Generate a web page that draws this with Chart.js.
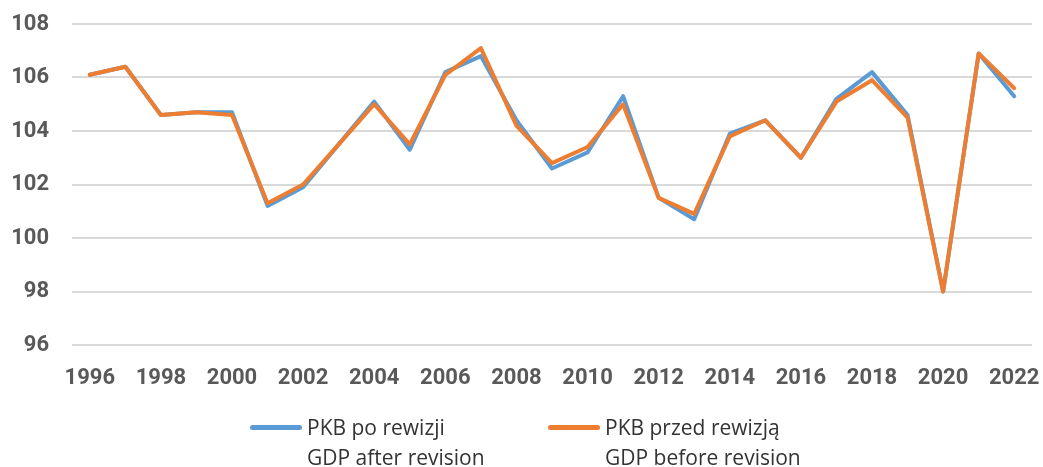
<!DOCTYPE html>
<html>
<head>
<meta charset="utf-8">
<script src="https://cdn.jsdelivr.net/npm/chart.js@4/dist/chart.umd.min.js"></script>
<style>
  html, body { margin: 0; padding: 0; background: #fff; }
  #wrap { position: relative; width: 1043px; height: 467px; }
  #legend { position: absolute; left: 0; top: 412px; width: 1043px; font-family: "Open Sans", sans-serif; font-size: 21px; color: #333; }
  .item { position: absolute; top: 0; line-height: 30px; }
  .swatch { position: absolute; left: 0; top: 13px; width: 52px; height: 5px; border-radius: 3px; }
  .txt { position: absolute; left: 57px; top: 0; white-space: nowrap; }
</style>
</head>
<body>
<div id="wrap">
  <canvas id="myChart" width="1043" height="467"></canvas>
  <div id="legend"></div>
</div>
<script>
// lata
var years = ["1996","1997","1998","1999","2000","2001","2002","2003","2004","2005","2006","2007","2008","2009",
             "2010","2011","2012","2013","2014","2015","2016","2017","2018","2019","2020","2021","2022"];

// PKB po rewizji / GDP after revision
var gdpAfter = [106.1, 106.4, 104.6, 104.7, 104.7, 101.2, 101.9, 103.5, 105.1, 103.3, 106.2, 106.8, 104.4, 102.6,
                103.2, 105.3, 101.5, 100.7, 103.9, 104.4, 103.0, 105.2, 106.2, 104.6, 98.0, 106.9, 105.3];

// PKB przed rewizją / GDP before revision
var gdpBefore = [106.1, 106.4, 104.6, 104.7, 104.6, 101.3, 102.0, 103.5, 105.0, 103.5, 106.1, 107.1, 104.2, 102.8,
                 103.4, 105.0, 101.5, 100.9, 103.8, 104.4, 103.0, 105.1, 105.9, 104.5, 98.0, 106.9, 105.6];

var yMin = 96, yMax = 108, yStep = 2;

var legendLabels = [
    { lines: ["PKB po rewizji", "GDP after revision"], color: '#5B9BD5', left: 250 },
    { lines: ["PKB przed rewizją", "GDP before revision"], color: '#ED7D31', left: 548 }
];

var chartData = {
    labels: years,
    datasets: [{
        label: legendLabels[0].lines.join(' / '),
        data: gdpAfter,
        borderColor: '#5B9BD5',
        borderWidth: 4,
        pointRadius: 0,
        tension: 0,
        order: 1
    }, {
        label: legendLabels[1].lines.join(' / '),
        data: gdpBefore,
        borderColor: '#ED7D31',
        borderWidth: 4,
        pointRadius: 0,
        tension: 0,
        order: 0
    }]
};

var tickFont = { family: 'Roboto', size: 22, weight: 'bold' };

var ctx = document.getElementById('myChart').getContext('2d');
var myChart = new Chart(ctx, {
    type: 'line',
    data: chartData,
    options: {
        responsive: false,
        animation: false,
        layout: { padding: { top: 24, right: 11, bottom: 79, left: 0 } },
        elements: { line: { borderCapStyle: 'round', borderJoinStyle: 'round' } },
        scales: {
            x: {
                offset: true,
                // stała wysokość osi, bez dodatkowego marginesu na etykiety
                afterFit: function (s) { s.height = 43; s.paddingLeft = 0; s.paddingRight = 0; },
                grid: { display: false, drawTicks: false },
                border: { display: false },
                ticks: {
                    autoSkip: false,
                    maxRotation: 0,
                    padding: 20,
                    color: '#595959',
                    font: tickFont,
                    callback: function (v, i) { return i % 2 === 0 ? years[i] : ''; }
                }
            },
            y: {
                min: yMin,
                max: yMax,
                afterFit: function (s) { s.width = 72; s.paddingTop = 0; s.paddingBottom = 0; },
                grid: { color: '#d9d9d9', lineWidth: 2, drawTicks: false },
                border: { display: false },
                ticks: {
                    stepSize: yStep,
                    padding: 23,
                    color: '#595959',
                    font: tickFont
                }
            }
        },
        plugins: {
            legend: { display: false },
            tooltip: { enabled: false }
        }
    }
});

// legenda w HTML (dwie linie tekstu)
var legendEl = document.getElementById('legend');
legendLabels.forEach(function (l) {
    var item = document.createElement('div');
    item.className = 'item';
    item.style.left = l.left + 'px';
    item.innerHTML = '<div class="swatch" style="background:' + l.color + '"></div>' +
        '<div class="txt">' + l.lines.join('<br>') + '</div>';
    legendEl.appendChild(item);
});
</script>
</body>
</html>
